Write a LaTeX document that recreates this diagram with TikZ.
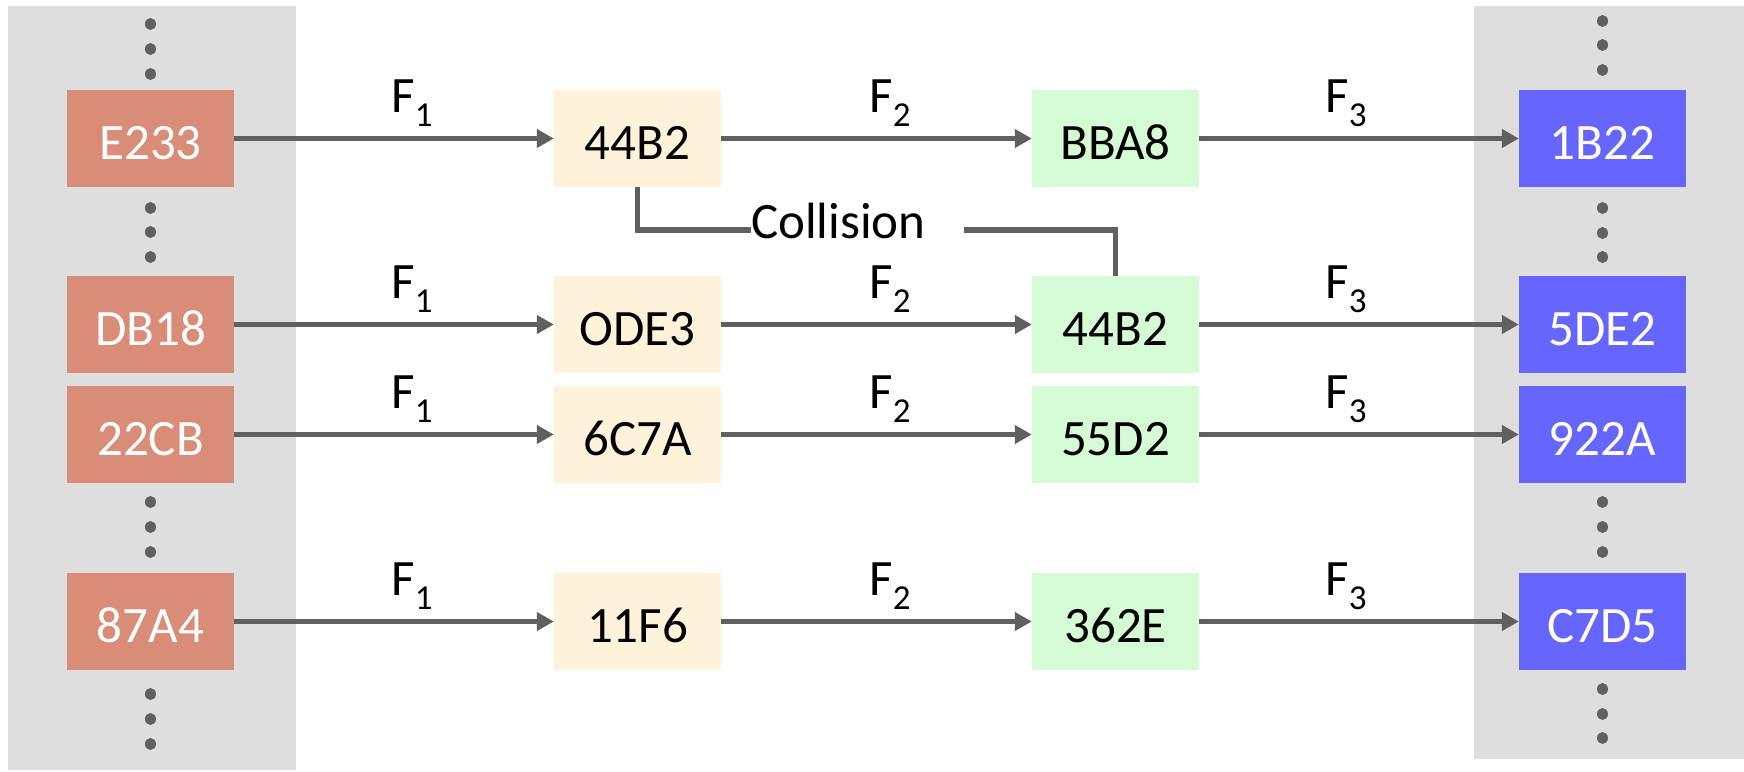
\documentclass[tikz,border=0pt]{standalone}
\usepackage{fontspec}
\setmainfont{Carlito}
\usetikzlibrary{arrows.meta}

\definecolor{panelgray}{RGB}{222,222,222}
\definecolor{linegray}{RGB}{96,96,96}
\definecolor{srcred}{RGB}{217,140,119}
\definecolor{midyellow}{RGB}{255,242,218}
\definecolor{midgreen}{RGB}{212,251,212}
\definecolor{dstblue}{RGB}{102,102,255}

% subscript index of a hash function label
\newcommand\fidx[1]{\raisebox{-14pt}{\fontsize{35}{35}\selectfont #1}}

\begin{document}
\begin{tikzpicture}[x=1pt,y=-1pt,
  box/.style={minimum width=167pt,minimum height=97pt,inner sep=0pt,
              text height=42pt,text depth=0pt,font=\fontsize{51}{60}\selectfont},
  src/.style={box,fill=srcred,text=white},
  hop/.style={box,fill=midyellow,text=black},
  hopb/.style={box,fill=midgreen,text=black},
  dst/.style={box,fill=dstblue,text=white},
  arr/.style={draw=linegray,line width=5.5pt,-{Triangle[length=17pt,width=18pt]}},
  conn/.style={draw=linegray,line width=5.5pt},
  flab/.style={anchor=base,inner sep=0pt,font=\fontsize{51}{60}\selectfont},
  dot/.style={fill=linegray}
]
\useasboundingbox (0,0) rectangle (1744,771);

% background panels
\fill[panelgray] (8,6) rectangle (296,770);
\fill[panelgray] (1474,6) rectangle (1744,759);

% vertical ellipsis dots
\foreach \cx/\ys in {150.5/{24,49,74,208,232,257,502,527,552,694,719,744},
                     1602.5/{21,45,70,208,233,257,502,527,552,689,714,738}}{
  \foreach \cy in \ys {
    \fill[dot] (\cx,\cy) ellipse [x radius=5.5pt, y radius=6pt];
  }
}

% boxes
\node[src]  (r1) at (150.5,138.5) {E233};
\node[src]  (r2) at (150.5,324.5) {DB18};
\node[src]  (r3) at (150.5,434.5) {22CB};
\node[src]  (r4) at (150.5,621.5) {87A4};

\node[hop]  (y1) at (637.5,138.5) {44B2};
\node[hop]  (y2) at (637.5,324.5) {ODE3};
\node[hop]  (y3) at (637.5,434.5) {6C7A};
\node[hop]  (y4) at (637.5,621.5) {11F6};

\node[hopb] (g1) at (1115.5,138.5) {BBA8};
\node[hopb] (g2) at (1115.5,324.5) {44B2};
\node[hopb] (g3) at (1115.5,434.5) {55D2};
\node[hopb] (g4) at (1115.5,621.5) {362E};

\node[dst]  (b1) at (1602.5,138.5) {1B22};
\node[dst]  (b2) at (1602.5,324.5) {5DE2};
\node[dst]  (b3) at (1602.5,434.5) {922A};
\node[dst]  (b4) at (1602.5,621.5) {C7D5};

% arrows with their labels
\foreach \i/\ly in {1/112,2/298,3/408,4/595}{
  \draw[arr] (r\i) -- (y\i);
  \draw[arr] (y\i) -- (g\i);
  \draw[arr] (g\i) -- (b\i);
  \node[flab] (fa\i) at (412,\ly) {F\fidx{1}};
  \node[flab] (fb\i) at (890,\ly) {F\fidx{2}};
  \node[flab] (fc\i) at (1346,\ly) {F\fidx{3}};
}

% collision link
\node[flab,anchor=base west] (coll) at (751,238) {Collision};
\coordinate (cl) at (751,230);
\coordinate (cr) at (964,230);
\draw[conn] (y1.south) |- (cl);
\draw[conn] (cr) -| (g2.north);
\end{tikzpicture}
\end{document}
